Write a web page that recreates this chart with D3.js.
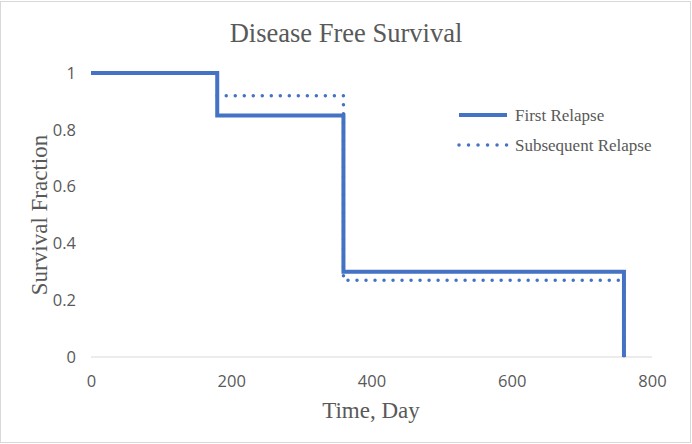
<!DOCTYPE html>
<html>
<head>
<meta charset="utf-8">
<script src="https://cdn.jsdelivr.net/npm/d3@7"></script>
<style>
    body { margin: 0; background: #fff; }
    .axis-title { font-family: "Liberation Serif", "Times New Roman", serif; fill: #595959; }
</style>
</head>
<body>
<div id="chart"></div>
<script>
// Chart data
var xTicks = [0, 200, 400, 600, 800];
var yTicks = [0, 0.2, 0.4, 0.6, 0.8, 1];
var yTickLabels = ["0", "0.2", "0.4", "0.6", "0.8", "1"];

var firstDays = [0, 180, 360, 760];
var firstVals = [1, 0.85, 0.3, 0];

var subDays = [180, 360, 760];
var subVals = [0.92, 0.27, 0];

var seriesNames = ["First Relapse", "Subsequent Relapse"];

function drawChart (selector) {
    var width = 692,
        height = 444;
    var margin = {top: 73, right: 40, bottom: 87, left: 91};

    var svg = d3.select(selector)
        .append("svg")
            .attr("width", width)
            .attr("height", height);

    // outer border of the chart area
    svg.append("rect")
        .attr("x", 0.5).attr("y", 1.5)
        .attr("width", width - 2).attr("height", height - 3)
        .attr("fill", "#fff")
        .attr("stroke", "#d9d9d9");

    var x = d3.scaleLinear().domain([0, 800]).range([margin.left, width - margin.right]);
    var y = d3.scaleLinear().domain([0, 1]).range([height - margin.bottom, margin.top]);

    // baseline
    svg.append("line")
        .attr("x1", x(0)).attr("x2", x(800))
        .attr("y1", y(0)).attr("y2", y(0))
        .attr("stroke", "#d9d9d9")
        .attr("stroke-width", 1);

    // Y Axis labels
    var yAxis = d3.axisLeft(y)
        .tickValues(yTicks)
        .tickFormat(function(d, i) { return yTickLabels[i]; })
        .tickSize(0)
        .tickPadding(15);
    var gy = svg.append("g")
        .attr("transform", "translate(" + x(0) + ",0)")
        .call(yAxis);
    gy.select(".domain").remove();
    gy.selectAll("text")
        .attr("font-family", "'Open Sans', 'Liberation Sans', sans-serif")
        .attr("font-size", 16.5)
        .attr("fill", "#595959");

    // X Axis labels
    var xAxis = d3.axisBottom(x)
        .tickValues(xTicks)
        .tickFormat(d3.format("d"))
        .tickSize(0)
        .tickPadding(18);
    var gx = svg.append("g")
        .attr("transform", "translate(0," + y(0) + ")")
        .call(xAxis);
    gx.select(".domain").remove();
    gx.selectAll("text")
        .attr("font-family", "'Open Sans', 'Liberation Sans', sans-serif")
        .attr("font-size", 16.5)
        .attr("fill", "#595959");

    var line = d3.line()
        .x(function(d) { return x(d[0]); })
        .y(function(d) { return y(d[1]); })
        .curve(d3.curveStepAfter);

    var firstData = d3.zip(firstDays, firstVals);
    var subData = d3.zip(subDays, subVals);

    svg.append("path")
        .attr("d", line(firstData))
        .attr("fill", "none")
        .attr("stroke", "#4472c4")
        .attr("stroke-width", 4);

    svg.append("path")
        .attr("d", line(subData))
        .attr("fill", "none")
        .attr("stroke", "#4472c4")
        .attr("stroke-width", 3.5)
        .attr("stroke-linecap", "round")
        .attr("stroke-dasharray", "0.01 9");

    // Titles
    svg.append("text")
        .attr("class", "axis-title")
        .attr("x", 346).attr("y", 42)
        .attr("text-anchor", "middle")
        .attr("font-size", 26.5)
        .text("Disease Free Survival");

    svg.append("text")
        .attr("class", "axis-title")
        .attr("x", 371).attr("y", 418)
        .attr("text-anchor", "middle")
        .attr("font-size", 23)
        .text("Time, Day");

    svg.append("text")
        .attr("class", "axis-title")
        .attr("transform", "translate(47,215) rotate(-90)")
        .attr("text-anchor", "middle")
        .attr("font-size", 23)
        .text("Survival Fraction");

    // Legend
    var legend = svg.append("g");
    var items = legend.selectAll("g")
        .data(seriesNames)
        .enter().append("g")
        .attr("transform", function(d, i) { return "translate(459," + (115 + i * 30) + ")"; });

    items.append("line")
        .attr("x1", 0).attr("x2", 48)
        .attr("stroke", "#4472c4")
        .attr("stroke-width", function(d, i) { return i === 0 ? 4 : 3.5; })
        .attr("stroke-linecap", function(d, i) { return i === 0 ? "butt" : "round"; })
        .attr("stroke-dasharray", function(d, i) { return i === 0 ? null : "0.01 9.5"; });

    items.append("text")
        .attr("x", 56).attr("dy", "0.35em")
        .attr("font-family", "'Liberation Serif', 'Times New Roman', serif")
        .attr("font-size", 17)
        .attr("fill", "#595959")
        .text(function(d) { return d; });
}

drawChart("#chart");
</script>
</body>
</html>
